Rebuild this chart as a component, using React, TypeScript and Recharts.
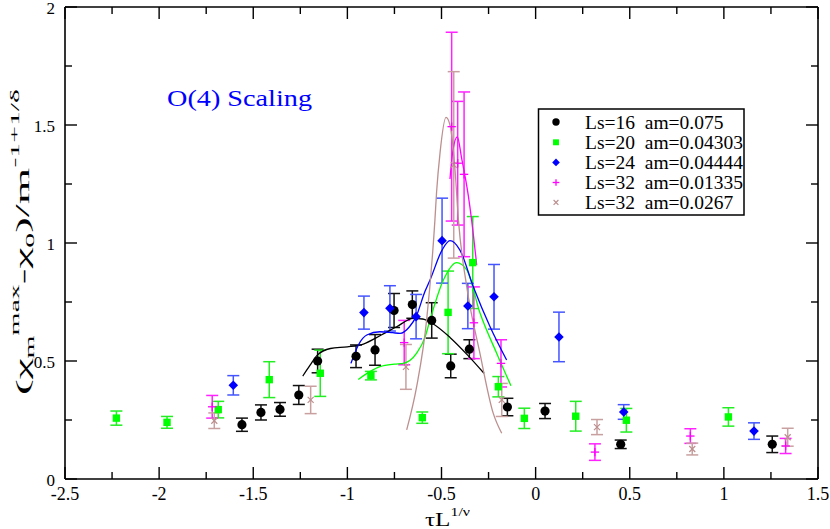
import React from 'react';
import {
  ComposedChart, Scatter, Line, XAxis, YAxis, ErrorBar
} from 'recharts';

const FONT = "'Liberation Serif', 'Times New Roman', Times, serif";

const BLACK   = '#000000';
const GREEN   = '#00ff00';
const BLUE    = '#0000ff';
const MAGENTA = '#ff00ff';
const BROWN   = '#bc8f8f';

// ticks every 0.25 / 0.25, labels on the half units
const X_TICKS = [-2.5, -2.25, -2, -1.75, -1.5, -1.25, -1, -0.75, -0.5, -0.25, 0, 0.25, 0.5, 0.75, 1, 1.25, 1.5];
const Y_TICKS = [0, 0.25, 0.5, 0.75, 1, 1.25, 1.5, 1.75, 2];

const LEGEND_LABELS = [
  'Ls=16  am=0.075',
  'Ls=20  am=0.04303',
  'Ls=24  am=0.04444',
  'Ls=32  am=0.01335',
  'Ls=32  am=0.0267',
];

type Pt = { x: number; y: number; err: number };

// Ls=16 am=0.075
const ls16: Pt[] = [
  { x: -1.560, y: 0.230, err: 0.028 },
  { x: -1.459, y: 0.282, err: 0.032 },
  { x: -1.358, y: 0.295, err: 0.029 },
  { x: -1.258, y: 0.356, err: 0.040 },
  { x: -1.158, y: 0.500, err: 0.050 },
  { x: -0.954, y: 0.520, err: 0.048 },
  { x: -0.853, y: 0.547, err: 0.065 },
  { x: -0.752, y: 0.714, err: 0.072 },
  { x: -0.655, y: 0.739, err: 0.058 },
  { x: -0.552, y: 0.672, err: 0.075 },
  { x: -0.451, y: 0.479, err: 0.050 },
  { x: -0.352, y: 0.550, err: 0.040 },
  { x: -0.150, y: 0.305, err: 0.037 },
  { x: 0.050, y: 0.288, err: 0.032 },
  { x: 0.452, y: 0.147, err: 0.018 },
  { x: 1.257, y: 0.147, err: 0.035 },
];

// Ls=20 am=0.04303
const ls20: Pt[] = [
  { x: -2.227, y: 0.258, err: 0.030 },
  { x: -1.958, y: 0.240, err: 0.025 },
  { x: -1.686, y: 0.294, err: 0.035 },
  { x: -1.415, y: 0.421, err: 0.076 },
  { x: -1.144, y: 0.448, err: 0.098 },
  { x: -0.875, y: 0.438, err: 0.018 },
  { x: -0.602, y: 0.260, err: 0.024 },
  { x: -0.465, y: 0.706, err: 0.175 },
  { x: -0.334, y: 0.917, err: 0.195 },
  { x: -0.198, y: 0.391, err: 0.043 },
  { x: -0.060, y: 0.257, err: 0.043 },
  { x: 0.213, y: 0.266, err: 0.063 },
  { x: 0.482, y: 0.249, err: 0.050 },
  { x: 1.024, y: 0.263, err: 0.039 },
];

// Ls=24 am=0.04444
const ls24: Pt[] = [
  { x: -1.606, y: 0.397, err: 0.041 },
  { x: -0.912, y: 0.705, err: 0.070 },
  { x: -0.774, y: 0.723, err: 0.096 },
  { x: -0.635, y: 0.688, err: 0.094 },
  { x: -0.497, y: 1.010, err: 0.180 },
  { x: -0.360, y: 0.733, err: 0.096 },
  { x: -0.221, y: 0.772, err: 0.137 },
  { x: 0.124, y: 0.602, err: 0.105 },
  { x: 0.468, y: 0.284, err: 0.031 },
  { x: 1.160, y: 0.203, err: 0.035 },
];

// Ls=32 am=0.01335
const ls32a: Pt[] = [
  { x: -1.718, y: 0.306, err: 0.048 },
  { x: -0.698, y: 0.578, err: 0.094 },
  { x: -0.446, y: 1.493, err: 0.400 },
  { x: -0.414, y: 1.338, err: 0.262 },
  { x: -0.380, y: 1.291, err: 0.349 },
  { x: -0.328, y: 0.662, err: 0.152 },
  { x: -0.184, y: 0.490, err: 0.100 },
  { x: 0.315, y: 0.114, err: 0.035 },
  { x: 0.822, y: 0.182, err: 0.031 },
  { x: 1.328, y: 0.140, err: 0.032 },
];

// Ls=32 am=0.0267
const ls32b: Pt[] = [
  { x: -1.707, y: 0.247, err: 0.033 },
  { x: -1.195, y: 0.335, err: 0.058 },
  { x: -0.689, y: 0.475, err: 0.095 },
  { x: -0.435, y: 1.331, err: 0.395 },
  { x: -0.180, y: 0.335, err: 0.070 },
  { x: 0.326, y: 0.220, err: 0.032 },
  { x: 0.832, y: 0.127, err: 0.025 },
  { x: 1.339, y: 0.177, err: 0.038 },
];

// fitted curves
const fit16 = [
  { x: -1.237, y: 0.436 }, { x: -1.200, y: 0.480 }, { x: -1.160, y: 0.525 },
  { x: -1.090, y: 0.553 }, { x: -1.000, y: 0.560 }, { x: -0.915, y: 0.572 },
  { x: -0.820, y: 0.610 }, { x: -0.738, y: 0.645 }, { x: -0.650, y: 0.681 },
  { x: -0.600, y: 0.678 }, { x: -0.550, y: 0.660 }, { x: -0.455, y: 0.600 },
  { x: -0.360, y: 0.524 }, { x: -0.274, y: 0.448 },
];

const fit20 = [
  { x: -0.942, y: 0.422 }, { x: -0.880, y: 0.455 }, { x: -0.827, y: 0.476 },
  { x: -0.750, y: 0.487 }, { x: -0.703, y: 0.490 }, { x: -0.632, y: 0.533 },
  { x: -0.588, y: 0.600 }, { x: -0.561, y: 0.674 }, { x: -0.490, y: 0.843 },
  { x: -0.419, y: 0.917 }, { x: -0.366, y: 0.886 }, { x: -0.295, y: 0.702 },
  { x: -0.207, y: 0.533 }, { x: -0.131, y: 0.395 },
];

const fit24 = [
  { x: -0.981, y: 0.490 }, { x: -0.940, y: 0.570 }, { x: -0.897, y: 0.610 },
  { x: -0.827, y: 0.624 }, { x: -0.760, y: 0.620 }, { x: -0.720, y: 0.617 },
  { x: -0.670, y: 0.645 }, { x: -0.635, y: 0.688 }, { x: -0.588, y: 0.794 },
  { x: -0.561, y: 0.843 }, { x: -0.497, y: 0.970 }, { x: -0.455, y: 1.010 },
  { x: -0.402, y: 0.970 }, { x: -0.331, y: 0.815 }, { x: -0.242, y: 0.645 },
  { x: -0.154, y: 0.504 },
];

const fit32a = [
  { x: -0.455, y: 1.271 }, { x: -0.439, y: 1.394 }, { x: -0.416, y: 1.450 },
  { x: -0.393, y: 1.359 }, { x: -0.358, y: 1.203 }, { x: -0.340, y: 1.097 },
  { x: -0.313, y: 0.907 },
];

const fit32b = [
  { x: -0.685, y: 0.208 }, { x: -0.632, y: 0.391 }, { x: -0.579, y: 0.674 },
  { x: -0.535, y: 1.097 }, { x: -0.526, y: 1.217 }, { x: -0.508, y: 1.380 },
  { x: -0.476, y: 1.532 }, { x: -0.455, y: 1.500 }, { x: -0.428, y: 1.309 },
  { x: -0.410, y: 1.097 }, { x: -0.366, y: 0.815 }, { x: -0.296, y: 0.533 },
  { x: -0.225, y: 0.278 }, { x: -0.180, y: 0.194 },
];

const isMajor = (v: number) => Math.abs(v * 2 - Math.round(v * 2)) < 1e-6;

const txt = (size: number, extra: React.CSSProperties = {}): React.CSSProperties =>
  ({ fontFamily: FONT, fontSize: size, fontWeight: 400, ...extra });

// ---- marker shapes ----
const Dot = ({ cx, cy, s = 1 }: any) => <circle cx={cx} cy={cy} r={4.6 * s} fill={BLACK} />;
const Sq = ({ cx, cy, s = 1 }: any) => (
  <rect x={cx - 3.7 * s} y={cy - 3.7 * s} width={7.4 * s} height={7.4 * s} fill={GREEN} />
);
const Dia = ({ cx, cy, s = 1 }: any) => {
  const r = 4.8 * s;
  return <polygon points={`${cx},${cy - r} ${cx + r},${cy} ${cx},${cy + r} ${cx - r},${cy}`} fill={BLUE} />;
};
const Plus = ({ cx, cy, s = 1 }: any) => {
  const r = 4.2 * s;
  return (
    <g stroke={MAGENTA} strokeWidth={1.3}>
      <line x1={cx - r} x2={cx + r} y1={cy} y2={cy} />
      <line x1={cx} x2={cx} y1={cy - r} y2={cy + r} />
    </g>
  );
};
const Cross = ({ cx, cy, s = 1 }: any) => {
  const r = 3 * s;
  return (
    <g stroke={BROWN} strokeWidth={1.2}>
      <line x1={cx - r} x2={cx + r} y1={cy - r} y2={cy + r} />
      <line x1={cx - r} x2={cx + r} y1={cy + r} y2={cy - r} />
    </g>
  );
};

// ---- inward ticks ----
const BottomTick = ({ x, y, payload }: any) => {
  const major = isMajor(payload.value);
  return (
    <g>
      <line x1={x} x2={x} y1={y} y2={y - (major ? 12 : 7)} stroke="#000" strokeWidth={1.4} />
      {major && (
        <text x={x} y={y + 21} textAnchor="middle" fill="#000" style={txt(18)}>
          {String(payload.value)}
        </text>
      )}
    </g>
  );
};
const TopTick = ({ x, y, payload }: any) => (
  <line x1={x} x2={x} y1={y} y2={y + (isMajor(payload.value) ? 12 : 7)} stroke="#000" strokeWidth={1.4} />
);
const LeftTick = ({ x, y, payload }: any) => {
  const major = isMajor(payload.value);
  return (
    <g>
      <line x1={x} x2={x + (major ? 12 : 7)} y1={y} y2={y} stroke="#000" strokeWidth={1.4} />
      {major && (
        <text x={x - 10} y={y + 6.5} textAnchor="end" fill="#000" style={txt(17)}>
          {String(payload.value)}
        </text>
      )}
    </g>
  );
};
const RightTick = ({ x, y, payload }: any) => (
  <line x1={x} x2={x - (isMajor(payload.value) ? 12 : 7)} y1={y} y2={y} stroke="#000" strokeWidth={1.4} />
);

const SERIES = [
  { data: ls16, color: BLACK, bar: '#111111', shape: Dot },
  { data: ls20, color: GREEN, bar: '#22ee22', shape: Sq },
  { data: ls24, color: BLUE, bar: '#4455ff', shape: Dia },
  { data: ls32a, color: MAGENTA, bar: '#ff22ff', shape: Plus },
  { data: ls32b, color: BROWN, bar: '#c9a0a0', shape: Cross },
];

const FITS = [
  { data: fit16, color: BLACK },
  { data: fit20, color: GREEN },
  { data: fit24, color: BLUE },
  { data: fit32a, color: MAGENTA },
  { data: fit32b, color: BROWN },
];

export default function App() {
  const legendRows = [122, 142.3, 162.4, 182.5, 202.4];
  return (
    <div style={{ position: 'absolute', left: 0, top: 0, width: 830, height: 529, background: '#fff' }}>
      <ComposedChart width={830} height={529} margin={{ top: 0, right: 0, bottom: 0, left: 0 }}>
        <XAxis
          xAxisId="b" dataKey="x" type="number" orientation="bottom" height={50}
          domain={[-2.5, 1.5]} ticks={X_TICKS} interval={0} allowDataOverflow
          tickSize={0} tickMargin={0} tickLine={false} tick={<BottomTick />}
          axisLine={{ stroke: '#000', strokeWidth: 1.6 }}
        />
        <XAxis
          xAxisId="t" dataKey="x" type="number" orientation="top" height={7}
          domain={[-2.5, 1.5]} ticks={X_TICKS} interval={0} allowDataOverflow
          tickSize={0} tickMargin={0} tickLine={false} tick={<TopTick />}
          axisLine={{ stroke: '#000', strokeWidth: 1.6 }}
        />
        <YAxis
          yAxisId="l" dataKey="y" type="number" orientation="left" width={65}
          domain={[0, 2]} ticks={Y_TICKS} interval={0} allowDataOverflow
          tickSize={0} tickMargin={0} tickLine={false} tick={<LeftTick />}
          axisLine={{ stroke: '#000', strokeWidth: 1.6 }}
        />
        <YAxis
          yAxisId="r" dataKey="y" type="number" orientation="right" width={12}
          domain={[0, 2]} ticks={Y_TICKS} interval={0} allowDataOverflow
          tickSize={0} tickMargin={0} tickLine={false} tick={<RightTick />}
          axisLine={{ stroke: '#000', strokeWidth: 1.6 }}
        />

        {SERIES.map((s, i) => (
          <Scatter
            key={'s' + i}
            xAxisId="b" yAxisId="l"
            data={s.data} dataKey="y" fill={s.color}
            shape={(p: any) => <s.shape cx={p.cx} cy={p.cy} />}
            isAnimationActive={false}
          >
            <ErrorBar dataKey="err" direction="y" width={6} stroke={s.bar} strokeWidth={1.5} isAnimationActive={false} />
          </Scatter>
        ))}

        {FITS.map((f, i) => (
          <Line
            key={'f' + i}
            xAxisId="b" yAxisId="l"
            data={f.data} dataKey="y" type="monotone"
            stroke={f.color} strokeWidth={1.3} dot={false}
            isAnimationActive={false}
          />
        ))}
      </ComposedChart>

      {/* texts and legend on top */}
      <svg width={830} height={529} style={{ position: 'absolute', left: 0, top: 0, pointerEvents: 'none' }}>
        <text x={167} y={106} fill={BLUE} style={txt(23)}
          textLength={145} lengthAdjust="spacingAndGlyphs">O(4) Scaling</text>

        <text x={425} y={526} style={txt(19)} textLength={45} lengthAdjust="spacingAndGlyphs">
          τL<tspan style={{ fontSize: 12 }} dy={-10}>1/ν</tspan>
        </text>

        <text transform="translate(29,395) rotate(-90)" style={txt(19)}
          textLength={306} lengthAdjust="spacingAndGlyphs">
          (χ<tspan style={{ fontSize: 12 }} dy={5}>m</tspan><tspan style={{ fontSize: 12 }} dy={-15}>max</tspan>
          <tspan dy={10}>-χ</tspan><tspan style={{ fontSize: 12 }} dy={5}>0</tspan><tspan dy={-5}>)/m</tspan>
          <tspan style={{ fontSize: 12 }} dy={-10}>-1+1/δ</tspan>
        </text>

        <rect x={538.5} y={109} width={205.5} height={106} fill="#fff" stroke="#000" strokeWidth={1.5} />
        {SERIES.map((s, i) => (
          <g key={'lg' + i}>
            <s.shape cx={556} cy={legendRows[i]} s={0.8} />
            <text x={585} y={legendRows[i] + 6.5} style={txt(19.5, { whiteSpace: 'pre' })}>
              {LEGEND_LABELS[i]}
            </text>
          </g>
        ))}
      </svg>
    </div>
  );
}
